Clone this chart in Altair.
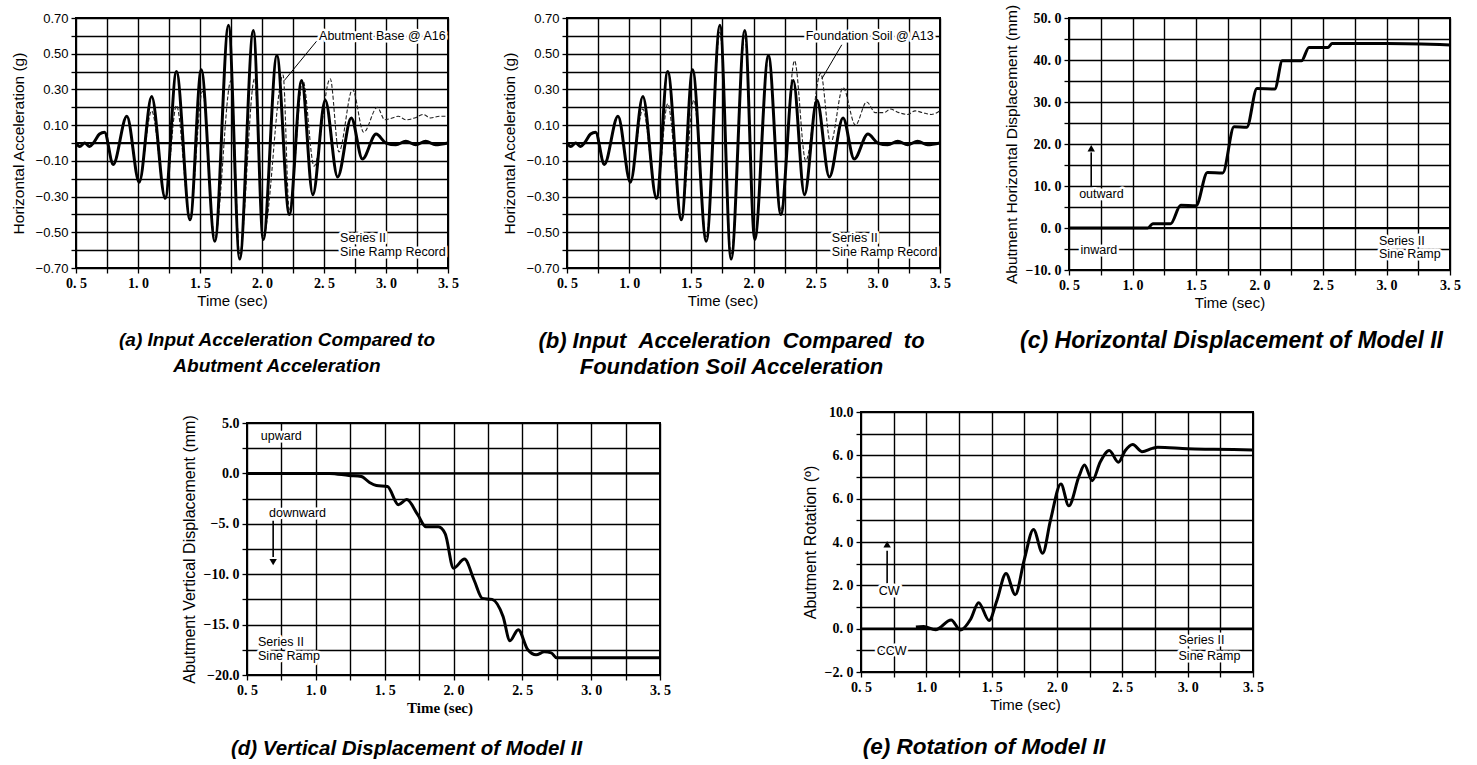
import altair as alt
import pandas as pd

# ---------------- data ----------------
# Input sine-ramp acceleration (solid), shared by panels (a) and (b)
in_t = [0.50, 0.53, 0.57, 0.61, 0.64, 0.69, 0.73, 0.80, 0.91, 1.01, 1.11, 1.22, 1.31, 1.42, 1.51,
        1.62, 1.73, 1.82, 1.93, 2.01, 2.12, 2.22, 2.32, 2.41, 2.51, 2.61, 2.72, 2.81, 2.92, 3.00,
        3.08, 3.16, 3.24, 3.32, 3.40, 3.50]
in_v = [0.00, -0.02, 0.00, -0.02, 0.00, 0.05, 0.06, -0.12, 0.15, -0.22, 0.26, -0.31, 0.40, -0.43, 0.41,
        -0.55, 0.66, -0.65, 0.63, -0.54, 0.49, -0.40, 0.35, -0.29, 0.24, -0.19, 0.14, -0.09, 0.05, 0.00,
        -0.01, 0.01, -0.01, 0.01, -0.01, 0.00]

# Abutment base @ A16 (dashed, panel a)
ab_t = [0.50, 0.53, 0.57, 0.61, 0.64, 0.69, 0.73, 0.80, 0.91, 1.01, 1.11, 1.22, 1.31, 1.42, 1.52,
        1.62, 1.75, 1.82, 1.94, 2.01, 2.17, 2.22, 2.33, 2.42, 2.55, 2.62, 2.73, 2.82, 2.93, 2.99,
        3.05, 3.10, 3.16, 3.23, 3.30, 3.36, 3.43, 3.50]
ab_v = [0.00, -0.02, 0.00, -0.02, 0.00, 0.05, 0.06, -0.11, 0.15, -0.21, 0.18, -0.30, 0.21, -0.41, 0.29,
        -0.53, 0.35, -0.62, 0.36, -0.52, 0.38, -0.38, 0.35, -0.13, 0.36, -0.05, 0.30, 0.06, 0.20, 0.13,
        0.14, 0.15, 0.13, 0.14, 0.16, 0.14, 0.15, 0.15]

# Foundation soil @ A13 (dashed, panel b)
fs_t = [0.50, 0.53, 0.57, 0.61, 0.64, 0.69, 0.73, 0.80, 0.91, 1.01, 1.11, 1.22, 1.31, 1.42, 1.52,
        1.62, 1.73, 1.82, 1.93, 2.01, 2.12, 2.22, 2.33, 2.42, 2.54, 2.62, 2.72, 2.82, 2.91, 2.98,
        3.05, 3.10, 3.17, 3.24, 3.30, 3.36, 3.43, 3.50]
fs_v = [0.00, -0.02, 0.00, -0.02, 0.00, 0.05, 0.06, -0.11, 0.15, -0.21, 0.19, -0.30, 0.22, -0.42, 0.24,
        -0.53, 0.62, -0.62, 0.60, -0.52, 0.48, -0.38, 0.46, -0.10, 0.39, 0.00, 0.31, 0.10, 0.23, 0.17,
        0.17, 0.19, 0.17, 0.16, 0.18, 0.17, 0.16, 0.18]

# (c) abutment horizontal displacement (mm)
hd_t = [0.50, 1.12, 1.16, 1.30, 1.38, 1.50, 1.59, 1.71, 1.80, 1.90, 1.98, 2.12, 2.18, 2.33, 2.39,
        2.54, 2.57, 3.00, 3.50]
hd_v = [0.0, 0.0, 1.0, 1.0, 5.4, 5.3, 13.2, 13.1, 24.1, 24.0, 33.2, 33.1, 39.8, 39.8, 43.0,
        43.0, 43.9, 43.9, 43.6]

# (d) abutment vertical displacement (mm)
vd_t = [0.50, 1.10, 1.24, 1.33, 1.39, 1.44, 1.52, 1.60, 1.66, 1.74, 1.80, 1.89, 1.94, 2.00, 2.08,
        2.15, 2.21, 2.28, 2.36, 2.41, 2.47, 2.54, 2.60, 2.66, 2.71, 2.75, 3.50]
vd_v = [0.0, 0.0, -0.2, -0.3, -0.9, -1.2, -1.3, -3.1, -2.6, -4.1, -5.3, -5.3, -6.0, -9.4, -8.5,
        -10.6, -12.4, -12.5, -14.2, -16.6, -15.5, -17.5, -18.0, -17.7, -17.8, -18.3, -18.3]

# (e) abutment rotation (deg)
ro_t = [0.92, 0.98, 1.07, 1.19, 1.26, 1.34, 1.40, 1.48, 1.54, 1.61, 1.68, 1.75, 1.82, 1.89, 1.95,
        2.03, 2.09, 2.17, 2.21, 2.27, 2.33, 2.40, 2.47, 2.52, 2.58, 2.65, 2.73, 2.77, 3.00, 3.20, 3.50]
ro_v = [0.08, 0.10, -0.05, 0.40, -0.06, 0.45, 1.20, 0.38, 1.30, 2.55, 1.57, 3.20, 4.58, 3.48, 5.00,
        6.68, 5.67, 7.06, 7.55, 6.83, 7.68, 8.22, 7.68, 8.20, 8.50, 8.17, 8.32, 8.37, 8.30, 8.28, 8.25]

# annotations (text, time, value)
a_txt = ["Abutment Base @ A16", "Series II", "Sine Ramp Record"]
a_tt = [2.46, 2.63, 2.63]
a_tv = [0.60, -0.53, -0.61]
a_lead = dict(t=[2.44], v=[0.57], t2=[2.18], v2=[0.35])

b_txt = ["Foundation Soil @ A13", "Series II", "Sine Ramp Record"]
b_tt = [2.42, 2.63, 2.63]
b_tv = [0.60, -0.53, -0.61]
b_lead = dict(t=[2.71], v=[0.55], t2=[2.55], v2=[0.36])

c_txt = ["outward", "inward", "Series II", "Sine Ramp"]
c_tt = [0.58, 0.59, 2.94, 2.94]
c_tv = [8.2, -5.2, -3.1, -6.2]
c_arrow = dict(t=[0.675], v=[9.8], t2=[0.675], v2=[18.0], tip=[19.0])

d_txt = ["upward", "downward", "Series II", "Sine Ramp"]
d_tt = [0.60, 0.66, 0.58, 0.58]
d_tv = [3.7, -3.9, -16.7, -18.1]
d_arrow = dict(t=[0.69], v=[-4.7], t2=[0.69], v2=[-8.3], tip=[-8.8])

e_txt = ["CW", "CCW", "Series II", "Sine Ramp"]
e_tt = [0.635, 0.62, 2.93, 2.93]
e_tv = [1.72, -1.02, -0.53, -1.24]
e_arrow = dict(t=[0.70], v=[2.1], t2=[0.70], v2=[3.6], tip=[3.9])

# ---------------- helpers ----------------
SANS = "Liberation Sans"
SERIF = "Liberation Serif"
X_VALS = [0.5 + 0.25 * i for i in range(13)]
X_LABEL = "round(datum.value*100) % 50 == 0 ? replace(format(datum.value, '.1f'), '.', '. ') : ''"
GRID_W = 1.4


def xenc(width, title_shift, title_font=SANS, title_weight="normal"):
    return alt.X(
        "t:Q",
        scale=alt.Scale(domain=[0.5, 3.5], nice=False, zero=False),
        axis=alt.Axis(
            values=X_VALS, labelExpr=X_LABEL, title="Time (sec)", grid=True,
            gridColor="black", gridWidth=GRID_W, gridOpacity=1, domain=False,
            tickSize=5, tickColor="black", tickWidth=1.3,
            labelFont=SERIF, labelFontWeight="bold", labelFontSize=14, labelColor="black",
            labelPadding=3, labelOverlap=False, labelFlush=False, labelBound=False,
            titleFont=title_font, titleFontSize=15, titleFontWeight=title_weight,
            titleColor="black", titlePadding=3, titleX=width / 2 + title_shift,
        ),
    )


def make_y(domain, values, label_expr, title, label_font, label_weight,
           title_size=14, label_size=14, title_pad=6):
    """Returns a function field -> alt.Y sharing the same scale/axis."""
    def build(field="v"):
        return alt.Y(
            f"{field}:Q",
            scale=alt.Scale(domain=domain, nice=False, zero=False),
            axis=alt.Axis(
                values=values, labelExpr=label_expr, title=title, grid=True,
                gridColor="black", gridWidth=GRID_W, gridOpacity=1, domain=False,
                tickSize=5, tickColor="black", tickWidth=1.3,
                labelFont=label_font, labelFontWeight=label_weight, labelFontSize=label_size,
                labelColor="black", labelPadding=3, labelOverlap=False, labelFlush=False,
                labelBound=False,
                titleFont=SANS, titleFontSize=title_size, titleFontWeight="normal",
                titleColor="black", titlePadding=title_pad,
            ),
        )
    return build


def series_layer(ts, vs, X, Y, dashed=False):
    df = pd.DataFrame({"t": ts, "v": vs})
    if dashed:
        m = alt.Chart(df).mark_line(color="#222", strokeWidth=1.1, strokeDash=[4, 2],
                                    interpolate="monotone")
    else:
        m = alt.Chart(df).mark_line(color="black", strokeWidth=3, interpolate="monotone")
    return m.encode(x=X, y=Y())


def zero_layer(Y):
    return alt.Chart(pd.DataFrame({"v": [0.0]})).mark_rule(color="black", strokeWidth=2.2).encode(y=Y())


def text_layers(txt, tt, tv, X, Y, size=12.5):
    df = pd.DataFrame({"label": txt, "t": tt, "v": tv})
    halo = alt.Chart(df).mark_text(align="left", baseline="middle", font=SANS, fontSize=size,
                                   fill="white", stroke="white", strokeWidth=5,
                                   strokeJoin="round").encode(x=X, y=Y(), text="label:N")
    ink = alt.Chart(df).mark_text(align="left", baseline="middle", font=SANS, fontSize=size,
                                  color="black").encode(x=X, y=Y(), text="label:N")
    return [halo, ink]


def leader_layer(d, X, Y):
    df = pd.DataFrame(d)
    return alt.Chart(df).mark_rule(color="black", strokeWidth=1).encode(
        x=X, y=Y(), x2="t2:Q", y2="v2:Q")


def arrow_layers(d, X, Y, up=True):
    df = pd.DataFrame(d)
    shaft = alt.Chart(df).mark_rule(color="black", strokeWidth=1.6).encode(
        x=X, y=Y(), x2="t2:Q", y2="v2:Q")
    head = alt.Chart(df).mark_point(shape="triangle-up" if up else "triangle-down", filled=True,
                                    color="black", size=55, opacity=1).encode(x=X, y=Y("tip"))
    return [shaft, head]


def caption(lines, dx, size, offset):
    return alt.TitleParams(text=lines, orient="bottom", anchor="middle", font=SANS,
                           fontSize=size, fontStyle="italic", fontWeight="bold", color="black",
                           offset=offset, dx=dx, lineHeight=26)


FRAME = alt.ViewBackground(stroke="black", strokeWidth=2, fill="white")
NB = "\u00a0"

# ---------------- panel (a) ----------------
WA, HA = 372, 250
Xa = xenc(WA, -30)
ACC_VALS = [round(-0.7 + 0.1 * i, 1) for i in range(15)]
ACC_LABEL = "abs(round(datum.value*10)) % 2 == 1 ? format(datum.value, '.2f') : ''"
Ya = make_y([-0.7, 0.7], ACC_VALS, ACC_LABEL, "Horizontal Acceleration (g)", SANS, "normal",
            15.5, 13, 9)
pa = alt.layer(
    zero_layer(Ya),
    series_layer(ab_t, ab_v, Xa, Ya, dashed=True),
    series_layer(in_t, in_v, Xa, Ya),
    leader_layer(a_lead, Xa, Ya),
    *text_layers(a_txt, a_tt, a_tv, Xa, Ya),
).properties(width=WA, height=HA, view=FRAME,
             title=caption(["(a) Input Acceleration Compared to", "Abutment Acceleration"], 15, 19, 23))

# ---------------- panel (b) ----------------
WB, HB = 373, 250
Xb = xenc(WB, -31)
Yb = make_y([-0.7, 0.7], ACC_VALS, ACC_LABEL, "Horizontal Acceleration (g)", SANS, "normal",
            15.5, 13, 9)
pb = alt.layer(
    zero_layer(Yb),
    series_layer(fs_t, fs_v, Xb, Yb, dashed=True),
    series_layer(in_t, in_v, Xb, Yb),
    leader_layer(b_lead, Xb, Yb),
    *text_layers(b_txt, b_tt, b_tv, Xb, Yb),
).properties(width=WB, height=HB, view=FRAME,
             title=caption([f"(b) Input{NB*2}Acceleration{NB*2}Compared{NB*2}to",
                            "Foundation Soil Acceleration"], -22, 22, 23))

# ---------------- panel (c) ----------------
WC, HC = 381, 252
Xc = xenc(WC, -30)
HD_VALS = [-10 + 5 * i for i in range(13)]
HD_LABEL = "round(datum.value) % 10 == 0 ? replace(format(datum.value, '.1f'), '.', '. ') : ''"
Yc = make_y([-10, 50], HD_VALS, HD_LABEL, "Abutment Horizontal Displacement (mm)", SERIF, "bold",
            15.5, 14)
pc = alt.layer(
    zero_layer(Yc),
    series_layer(hd_t, hd_v, Xc, Yc),
    *arrow_layers(c_arrow, Xc, Yc, up=True),
    *text_layers(c_txt, c_tt, c_tv, Xc, Yc),
).properties(width=WC, height=HC, view=FRAME,
             title=caption(["(c) Horizontal Displacement of Model II"], -28, 23, 20))

# ---------------- panel (d) ----------------
WD, HD = 413, 252
Xd = xenc(WD, -14, SERIF, "bold")
VD_VALS = [-20 + 2.5 * i for i in range(11)]
VD_LABEL = ("datum.value % 5 != 0 ? '' : (datum.value >= 0 || datum.value <= -20) ? "
            "format(datum.value, '.1f') : replace(format(datum.value, '.1f'), '.', '. ')")
Yd = make_y([-20, 5], VD_VALS, VD_LABEL, "Abutment Vertical Displacement (mm)", SERIF, "bold",
            16, 14)
pd_ = alt.layer(
    zero_layer(Yd),
    series_layer(vd_t, vd_v, Xd, Yd),
    *arrow_layers(d_arrow, Xd, Yd, up=False),
    *text_layers(d_txt, d_tt, d_tv, Xd, Yd),
).properties(width=WD, height=HD, view=FRAME,
             title=caption(["(d) Vertical Displacement of Model II"], -47, 20.5, 24))

# ---------------- panel (e) ----------------
WE, HE = 392, 260
Xe = xenc(WE, -32)
RO_VALS = [-2 + i for i in range(13)]
RO_LABEL = ("datum.value % 2 != 0 ? '' : datum.value == 10 ? '10.0' : datum.value == 8 ? '6. 0' : "
            "replace(format(datum.value, '.1f'), '.', '. ')")
Ye = make_y([-2, 10], RO_VALS, RO_LABEL, "Abutment Rotation (º)", SERIF, "bold", 16, 14)
pe = alt.layer(
    zero_layer(Ye),
    series_layer(ro_t, ro_v, Xe, Ye),
    *arrow_layers(e_arrow, Xe, Ye, up=True),
    *text_layers(e_txt, e_tt, e_tv, Xe, Ye),
).properties(width=WE, height=HE, view=FRAME,
             title=caption(["(e) Rotation of Model II"], -73, 22.5, 24))


def spacer(w, h):
    return alt.Chart(pd.DataFrame({"z": [0]})).mark_point(opacity=0, size=1).encode(
        x=alt.X("z:Q", axis=None), y=alt.Y("z:Q", axis=None)
    ).properties(width=w, height=h, view=alt.ViewBackground(strokeOpacity=0))


top = alt.hconcat(alt.hconcat(pa, pb, spacing=41), pc, spacing=51)
bottom = alt.hconcat(
    spacer(104, 1),
    alt.hconcat(alt.vconcat(spacer(10, 1), pd_, spacing=0), pe, spacing=129),
    spacing=0,
)
chart = alt.vconcat(top, bottom, spacing=25).properties(
    padding={"left": 10, "top": 3, "right": 5, "bottom": 3}
).configure(background="white")

chart.save("out.html", embed_options={"renderer": "svg", "actions": False})
